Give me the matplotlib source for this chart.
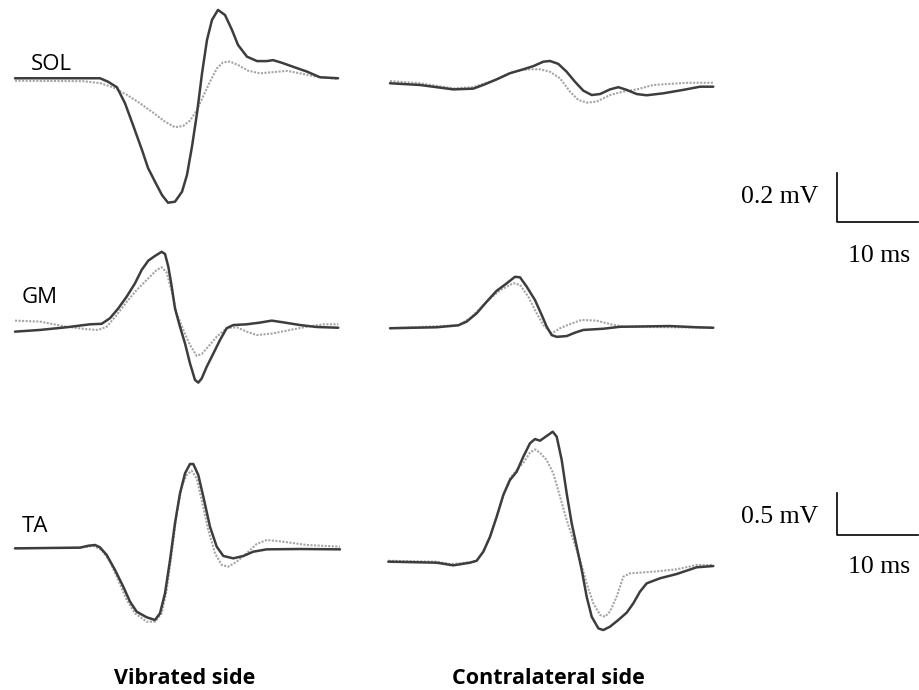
import matplotlib
matplotlib.use("Agg")
import matplotlib.pyplot as plt

# ---------------- data (time in ms, amplitude in mV) ----------------
# solid = dark trace, dotted = light grey trace
sol_vib_t = [0, 10.49, 11.48, 12.59, 13.58, 14.57, 15.68, 16.42, 17.28, 18.15, 18.89, 19.75, 20.62,
             21.23, 21.85, 22.47, 23.09, 23.70, 24.32, 25.06, 25.93, 26.79, 27.53, 28.64, 29.88,
             31.11, 31.85, 32.96, 34.32, 36.05, 37.65, 39.88]
sol_vib_a = [-0.001, -0.001, -0.015, -0.038, -0.103, -0.192, -0.294, -0.367, -0.423, -0.478,
             -0.509, -0.505, -0.464, -0.396, -0.28, -0.144, 0.019, 0.155, 0.237, 0.278, 0.257,
             0.196, 0.135, 0.087, 0.069, 0.069, 0.073, 0.062, 0.046, 0.026, 0.003, -0.001]
sol_vib_bt = [0, 8.40, 10.49, 12.10, 13.83, 15.43, 17.04, 18.52, 19.75, 20.74, 21.6, 22.47, 23.21,
              24.07, 24.94, 25.68, 26.54, 27.53, 28.77, 30.25, 31.85, 33.58, 35.19, 37.28, 39.88]
sol_vib_b = [-0.011, -0.013, -0.021, -0.038, -0.069, -0.103, -0.141, -0.178, -0.201, -0.196,
             -0.174, -0.131, -0.076, -0.015, 0.040, 0.064, 0.067, 0.053, 0.030, 0.019, 0.024,
             0.029, 0.019, 0.005, -0.004]

sol_con_t = [0, 3.7, 5.77, 7.82, 10.28, 11.73, 13.17, 14.81, 16.46, 17.7, 18.93, 19.75, 20.78,
             21.81, 22.84, 23.86, 24.9, 25.93, 27.16, 28.19, 29.22, 30.46, 31.69, 33.74, 36.21,
             38.27, 39.91]
sol_con_a = [0.003, -0.004, -0.013, -0.022, -0.019, -0.001, 0.019, 0.044, 0.060, 0.073, 0.091,
             0.094, 0.082, 0.050, 0.009, -0.027, -0.045, -0.041, -0.022, -0.013, -0.024, -0.041,
             -0.046, -0.038, -0.024, -0.011, -0.011]
sol_con_bt = [0, 3.7, 7.82, 10.28, 11.73, 13.17, 14.81, 16.26, 17.28, 18.52, 19.75, 20.99, 22.22,
              23.25, 24.28, 25.52, 27.16, 28.8, 30.46, 32.51, 36.63, 39.91]
sol_con_b = [0.012, 0.003, -0.018, -0.013, 0.003, 0.019, 0.044, 0.057, 0.060, 0.060, 0.050, 0.023,
             -0.031, -0.065, -0.076, -0.072, -0.045, -0.031, -0.022, -0.004, 0.005, 0.005]

gm_vib_t = [0, 3.09, 6.38, 9.26, 10.7, 11.73, 12.75, 13.79, 14.81, 15.64, 16.46, 17.28, 18.11,
            18.52, 18.93, 19.35, 19.75, 20.37, 20.99, 21.6, 22.22, 22.63, 23.05, 23.67, 24.49,
            25.31, 26.13, 26.95, 28.6, 30.25, 31.69, 33.12, 35.19, 37.24, 39.91]
gm_vib_a = [-0.019, -0.012, -0.001, 0.011, 0.013, 0.036, 0.076, 0.124, 0.178, 0.233, 0.271, 0.290,
            0.307, 0.298, 0.246, 0.165, 0.076, 0.001, -0.067, -0.148, -0.216, -0.227, -0.210,
            -0.162, -0.108, -0.053, -0.005, 0.008, 0.011, 0.018, 0.026, 0.019, 0.008, 0.0, -0.003]
gm_vib_bt = [0, 3.09, 6.38, 8.85, 10.28, 11.32, 12.55, 13.79, 15.02, 16.26, 17.49, 18.11, 18.73,
             19.35, 19.96, 20.78, 21.6, 22.43, 23.05, 23.86, 24.9, 26.13, 27.37, 28.6, 29.84,
             31.89, 33.95, 36.01, 38.07, 39.91]
gm_vib_b = [0.026, 0.022, 0.001, -0.009, -0.012, 0.001, 0.049, 0.103, 0.151, 0.192, 0.233, 0.244,
            0.222, 0.144, 0.056, -0.012, -0.073, -0.118, -0.110, -0.080, -0.040, -0.005, -0.001,
            -0.019, -0.033, -0.026, -0.012, 0.001, 0.011, 0.011]

gm_con_t = [0, 5.77, 8.43, 9.46, 10.7, 11.93, 13.17, 14.4, 15.43, 16.05, 16.87, 17.9, 18.73,
            19.35, 19.96, 20.58, 21.81, 22.84, 23.86, 26.33, 28.4, 34.57, 37.86, 39.91]
gm_con_a = [-0.001, 0.003, 0.011, 0.026, 0.060, 0.107, 0.152, 0.182, 0.209, 0.207, 0.169, 0.114,
            0.053, 0.005, -0.029, -0.036, -0.033, -0.019, -0.008, -0.003, 0.005, 0.008, 0.003,
            0.001]
gm_con_bt = [0, 8.43, 9.88, 11.11, 12.35, 13.79, 15.23, 16.05, 17.07, 18.11, 18.93, 19.96, 20.99,
             22.22, 23.67, 25.52, 27.16, 28.8, 39.91]
gm_con_b = [-0.001, 0.011, 0.040, 0.080, 0.121, 0.158, 0.183, 0.176, 0.128, 0.060, 0.012, -0.022,
            -0.001, 0.016, 0.033, 0.030, 0.016, 0.005, 0.001]

ta_vib_t = [0, 8.02, 9.05, 9.88, 10.49, 11.32, 12.35, 13.37, 14.2, 15.02, 16.26, 17.28, 17.9,
            18.52, 19.14, 19.75, 20.37, 20.99, 21.6, 22.01, 22.63, 23.25, 24.07, 24.9, 25.72,
            26.95, 28.19, 29.42, 31.07, 35.19, 40.12]
ta_vib_a = [-0.004, 0.004, 0.027, 0.036, 0.008, -0.083, -0.262, -0.461, -0.639, -0.758, -0.825,
            -0.857, -0.778, -0.539, -0.143, 0.294, 0.651, 0.889, 1.0, 1.0, 0.869, 0.611, 0.254,
            0.016, -0.095, -0.123, -0.095, -0.044, -0.016, -0.012, -0.016]
ta_vib_bt = [0, 8.02, 9.67, 10.7, 11.73, 12.75, 13.79, 14.81, 16.26, 17.28, 18.11, 18.73, 19.35,
             19.96, 20.58, 21.2, 21.81, 22.43, 23.05, 23.86, 24.69, 25.52, 26.33, 27.37, 28.6,
             29.84, 31.07, 33.12, 36.0, 40.12]
ta_vib_b = [-0.004, 0.004, 0.024, -0.024, -0.163, -0.381, -0.619, -0.777, -0.877, -0.877, -0.777,
            -0.5, -0.063, 0.413, 0.730, 0.869, 0.920, 0.829, 0.571, 0.214, -0.063, -0.202, -0.222,
            -0.163, -0.063, 0.048, 0.095, 0.075, 0.036, 0.016]

ta_con_t = [-0.21, 5.76, 7.81, 9.88, 10.7, 11.52, 12.35, 13.17, 13.99, 14.81, 15.64, 16.46, 17.28,
            17.9, 18.52, 19.34, 20.09, 20.58, 21.2, 21.81, 22.43, 23.05, 23.67, 24.28, 24.9,
            25.72, 26.33, 27.16, 28.19, 29.22, 30.04, 30.86, 31.69, 33.33, 35.39, 37.86, 39.91]
ta_con_a = [0.004, -0.008, -0.040, -0.008, 0.015, 0.123, 0.301, 0.539, 0.798, 0.976, 1.075, 1.254,
            1.413, 1.464, 1.444, 1.5, 1.551, 1.492, 1.214, 0.818, 0.461, 0.183, -0.095, -0.413,
            -0.651, -0.790, -0.810, -0.770, -0.690, -0.603, -0.492, -0.353, -0.254, -0.194,
            -0.143, -0.063, -0.048]
ta_con_bt = [-0.21, 5.76, 7.41, 8.64, 10.28, 10.7, 11.52, 12.35, 13.17, 13.99, 14.81, 15.64,
             16.46, 17.28, 17.9, 18.52, 19.34, 20.16, 20.99, 21.81, 22.63, 23.46, 24.28, 25.1,
             25.93, 26.54, 27.16, 27.98, 28.8, 29.63, 32.51, 35.39, 37.86, 39.91]
ta_con_b = [0.015, 0.004, -0.024, -0.016, 0.004, 0.015, 0.123, 0.301, 0.539, 0.798, 0.996, 1.095,
            1.182, 1.301, 1.341, 1.301, 1.214, 1.056, 0.778, 0.5, 0.262, 0.024, -0.254, -0.492,
            -0.631, -0.651, -0.591, -0.413, -0.175, -0.135, -0.115, -0.087, -0.036, -0.036]

muscles = ["SOL", "GM", "TA"]
sides = ["Vibrated side", "Contralateral side"]
scale_bars_mv = [0.2, 0.5]
scale_bar_ms = 10

# ---------------- layout ----------------
W, H = 920, 690
PX_PER_MS = 8.1
fig = plt.figure(figsize=(W / 100, H / 100), dpi=100)

SOLID = "#3d3d3d"
DOT = "#a5a5a5"


def overlay(x0, y0, px_per_mv):
    """Full-figure transparent axes whose origin (0 ms, 0 mV) sits at pixel (x0, y0)."""
    ax = fig.add_axes([0, 0, 1, 1])
    ax.set_xlim(-x0 / PX_PER_MS, (W - x0) / PX_PER_MS)
    ax.set_ylim((y0 - H) / px_per_mv, y0 / px_per_mv)
    ax.axis("off")
    ax.patch.set_alpha(0)
    return ax


panels = [
    (15, 78, 245, sol_vib_t, sol_vib_a, sol_vib_bt, sol_vib_b),
    (390, 84, 245, sol_con_t, sol_con_a, sol_con_bt, sol_con_b),
    (15, 327, 245, gm_vib_t, gm_vib_a, gm_vib_bt, gm_vib_b),
    (390, 328, 245, gm_con_t, gm_con_a, gm_con_bt, gm_con_b),
    (15, 548, 84, ta_vib_t, ta_vib_a, ta_vib_bt, ta_vib_b),
    (390, 562, 84, ta_con_t, ta_con_a, ta_con_bt, ta_con_b),
]

for x0, y0, s, t1, v1, t2, v2 in panels:
    ax = overlay(x0, y0, s)
    ax.plot(t2, v2, color=DOT, lw=1.5, ls=(0, (1, 0.7)), solid_joinstyle="round")
    ax.plot(t1, v1, color=SOLID, lw=1.8, solid_joinstyle="round", solid_capstyle="round")

# scale bars (drawn in data units: 10 ms x 0.2 mV / 0.5 mV)
off = matplotlib.transforms.ScaledTranslation
for (yb, s, ylab, yms), mv in zip([(222, 245, 203, 262), (535, 84, 523, 573)], scale_bars_mv):
    ax = overlay(837, yb, s)
    ax.plot([0, 0, scale_bar_ms], [mv, 0, 0], color="black", lw=1.2)
    ax.text(0, 0, f"{mv} mV", ha="right", va="baseline", fontsize=18.5, family="Liberation Serif",
            transform=ax.transData + off(-19 / 100, -(ylab - yb) / 100, fig.dpi_scale_trans))
    ax.text(scale_bar_ms / 2, 0, f"{scale_bar_ms} ms", ha="center", va="baseline", fontsize=18.5,
            family="Liberation Serif",
            transform=ax.transData + off(2 / 100, -(yms - yb) / 100, fig.dpi_scale_trans))

# text overlay in pixel coordinates
tx = fig.add_axes([0, 0, 1, 1])
tx.set_xlim(0, W)
tx.set_ylim(H, 0)
tx.axis("off")
tx.patch.set_alpha(0)
for name, (x, y) in zip(muscles, [(31, 70), (22, 303), (22, 532)]):
    tx.text(x, y, name, ha="left", va="baseline", fontsize=16, family="Open Sans")
for name, x in zip(sides, [185, 548]):
    tx.text(x, 684, name, ha="center", va="baseline", fontsize=15.5, family="Open Sans",
            fontweight="bold")

fig.savefig("out.png", dpi=100)
